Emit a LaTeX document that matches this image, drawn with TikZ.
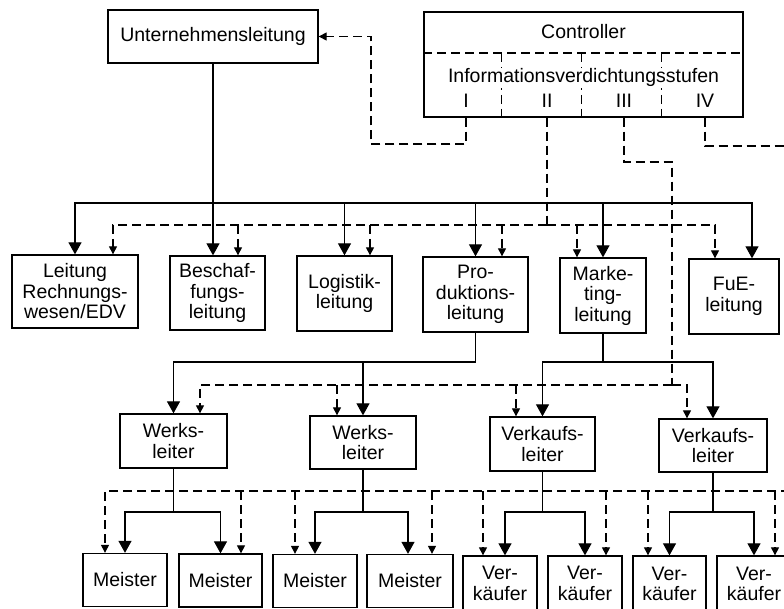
\documentclass[tikz,border=0pt]{standalone}
\usepackage{fontspec}
\setmainfont{Liberation Sans}
\usetikzlibrary{arrows.meta}
\newcommand{\boxfont}{\fontsize{19.5}{20.5}\selectfont}
\begin{document}
\begin{tikzpicture}[x=1pt,y=-1pt,
  box/.style={draw, line width=1.3pt, align=center, inner sep=0pt, font=\boxfont},
  txt/.style={inner sep=0pt, font=\boxfont},
  sline/.style={line width=1.1pt},
  dline/.style={line width=1.1pt, dash pattern=on 9pt off 5pt},
  sarr/.style={sline, -{Triangle[width=13pt,length=12pt]}},
  darr/.style={dline, -{Triangle[width=8pt,length=8pt]}}]

\fill[white] (0,0) rectangle (784,609);
\useasboundingbox (0,0) rectangle (784,609);

% ---- top level ----
\node[box, minimum width=210pt, minimum height=53pt] (ul) at (213,36.5) {Unternehmensleitung};
\node[box, minimum width=319pt, minimum height=105pt] (ctrl) at (583.5,64.5) {};
\node[txt, anchor=base] (ctit) at (583.5,39) {Controller};

% controller subdivisions
\coordinate (csep) at (0,53);
\coordinate (d1) at ([xshift=78pt]ctrl.south west);
\coordinate (d2) at ([xshift=158pt]ctrl.south west);
\coordinate (d3) at ([xshift=238pt]ctrl.south west);
\draw[dline] (csep -| ctrl.west) -- (csep -| ctrl.east);
\draw[dline] (d1 |- csep) -- (d1);
\draw[dline] (d2 |- csep) -- (d2);
\draw[dline] (d3 |- csep) -- (d3);
\node[txt, anchor=base, fill=white, inner sep=1pt] (cstu) at (583.5,83) {Informationsverdichtungsstufen};
\node[txt, anchor=base] (nI) at (466,108) {I};
\node[txt, anchor=base] (nII) at (547,108) {II};
\node[txt, anchor=base] (nIII) at (624,108) {III};
\node[txt, anchor=base] (nIV) at (705,108) {IV};

% ---- second level ----
\node[box, minimum width=126pt, minimum height=73pt] (rw) at (75,291.5) {Leitung\\Rechnungs-\\wesen/EDV};
\node[box, minimum width=95pt, minimum height=74pt] (be) at (217.5,293) {Beschaf-\\fungs-\\leitung};
\node[box, minimum width=95pt, minimum height=75pt] (lo) at (344.5,293.5) {Logistik-\\leitung};
\node[box, minimum width=105pt, minimum height=75pt] (pr) at (475.5,294.5) {Pro-\\duktions-\\leitung};
\node[box, minimum width=86pt, minimum height=75pt] (ma) at (603,295.5) {Marke-\\ting-\\leitung};
\node[box, minimum width=90pt, minimum height=75pt] (fue) at (734,296.5) {FuE-\\leitung};

% ---- third level ----
\node[box, minimum width=107pt, minimum height=54pt] (wl1) at (173.5,441) {Werks-\\leiter};
\node[box, minimum width=106pt, minimum height=53pt] (wl2) at (363,442.5) {Werks-\\leiter};
\node[box, minimum width=105pt, minimum height=54pt] (vl1) at (542.5,444) {Verkaufs-\\leiter};
\node[box, minimum width=108pt, minimum height=53pt] (vl2) at (713,445.5) {Verkaufs-\\leiter};

% ---- fourth level ----
\node[box, minimum width=84pt, minimum height=53pt] (m1) at (125,580) {Meister};
\node[box, minimum width=83pt, minimum height=53pt] (m2) at (220.5,580.5) {Meister};
\node[box, minimum width=84pt, minimum height=53pt] (m3) at (315,581) {Meister};
\node[box, minimum width=86pt, minimum height=53pt] (m4) at (410,581) {Meister};
\node[box, minimum width=74pt, minimum height=55pt] (v1) at (500,583.5) {Ver-\\käufer};
\node[box, minimum width=74pt, minimum height=55pt] (v2) at (585,583.5) {Ver-\\käufer};
\node[box, minimum width=73pt, minimum height=56pt] (v3) at (669.5,584) {Ver-\\käufer};
\node[box, minimum width=74pt, minimum height=56pt] (v4) at (754,584) {Ver-\\käufer};

% ---- information lines from the controller ----
\coordinate (kI) at (371,144);
\coordinate (kIII) at (672,162);
\coordinate (kIV) at (790,146);
\draw[darr] (nI |- ctrl.south) |- (kI) |- (ul.east);
\coordinate (db2) at (0,225);
\coordinate (db3) at (0,385);
\coordinate (db4) at (0,491);
\draw[dline] (nII |- ctrl.south) -- (nII |- db2);
\draw[dline] (nIII |- ctrl.south) |- (kIII) -- (kIII |- db3);
\draw[dline] (nIV |- ctrl.south) |- (kIV);

% ---- second level connectors ----
\coordinate (sb2) at (0,203);
\coordinate (beS) at (ul.south |- be.north);
\coordinate (fueS) at ([xshift=18pt]fue.north);
\coordinate (rwD) at ([xshift=38pt]rw.north);
\coordinate (beD) at ([xshift=20.5pt]be.north);
\coordinate (loD) at ([xshift=25.5pt]lo.north);
\coordinate (prD) at ([xshift=26.5pt]pr.north);
\coordinate (maD) at ([xshift=-26pt]ma.north);
\coordinate (fueD) at ([xshift=-19pt]fue.north);

\draw[sarr] (ul.south) -- (beS);
\draw[sarr] (beS |- sb2) -| (rw.north);
\draw[sarr] (beS |- sb2) -| (fueS);
\draw[sarr] (sb2 -| lo.north) -- (lo.north);
\draw[sarr] (sb2 -| pr.north) -- (pr.north);
\draw[sarr] (sb2 -| ma.north) -- (ma.north);

\draw[darr] (nII |- db2) -| (rwD);
\draw[darr] (nII |- db2) -| (fueD);
\draw[darr] (db2 -| beD) -- (beD);
\draw[darr] (db2 -| loD) -- (loD);
\draw[darr] (db2 -| prD) -- (prD);
\draw[darr] (db2 -| maD) -- (maD);

% ---- third level connectors ----
\coordinate (sb3) at (0,362);
\coordinate (wl1D) at ([xshift=26.5pt]wl1.north);
\coordinate (wl2D) at ([xshift=-26pt]wl2.north);
\coordinate (vl1D) at ([xshift=-26.5pt]vl1.north);
\coordinate (vl2D) at ([xshift=-26pt]vl2.north);

\draw[sarr] (pr.south) |- (sb3 -| wl1.north) -- (wl1.north);
\draw[sarr] (sb3 -| wl2.north) -- (wl2.north);
\draw[sarr] (ma.south) |- (sb3 -| vl1.north) -- (vl1.north);
\draw[sarr] (ma.south |- sb3) -| (vl2.north);

\draw[darr] (kIII |- db3) -| (wl1D);
\draw[darr] (kIII |- db3) -| (vl2D);
\draw[darr] (db3 -| wl2D) -- (wl2D);
\draw[darr] (db3 -| vl1D) -- (vl1D);

% ---- fourth level connectors ----
\coordinate (sb4) at (0,512);
\coordinate (e4) at (790,491);
\coordinate (m4S) at ([xshift=-2pt]m4.north);
\coordinate (v1S) at ([xshift=5pt]v1.north);
\coordinate (m1D) at ([xshift=-20pt]m1.north);
\coordinate (m2D) at ([xshift=20.5pt]m2.north);
\coordinate (m3D) at ([xshift=-20pt]m3.north);
\coordinate (m4D) at ([xshift=22pt]m4.north);
\coordinate (v1D) at ([xshift=-17pt]v1.north);
\coordinate (v2D) at ([xshift=21pt]v2.north);
\coordinate (v3D) at ([xshift=-21.5pt]v3.north);
\coordinate (v4D) at ([xshift=21pt]v4.north);

\draw[sarr] (wl1.south) |- (sb4 -| m1.north) -- (m1.north);
\draw[sarr] (wl1.south |- sb4) -| (m2.north);
\draw[sarr] (wl2.south) |- (sb4 -| m3.north) -- (m3.north);
\draw[sarr] (wl2.south |- sb4) -| (m4S);
\draw[sarr] (vl1.south) |- (sb4 -| v1S) -- (v1S);
\draw[sarr] (vl1.south |- sb4) -| (v2.north);
\draw[sarr] (vl2.south) |- (sb4 -| v3.north) -- (v3.north);
\draw[sarr] (vl2.south |- sb4) -| (v4.north);

\draw[darr] (e4) -| (m1D);
\draw[darr] (db4 -| m2D) -- (m2D);
\draw[darr] (db4 -| m3D) -- (m3D);
\draw[darr] (db4 -| m4D) -- (m4D);
\draw[darr] (db4 -| v1D) -- (v1D);
\draw[darr] (db4 -| v2D) -- (v2D);
\draw[darr] (db4 -| v3D) -- (v3D);
\draw[darr] (db4 -| v4D) -- (v4D);

\end{tikzpicture}
\end{document}
